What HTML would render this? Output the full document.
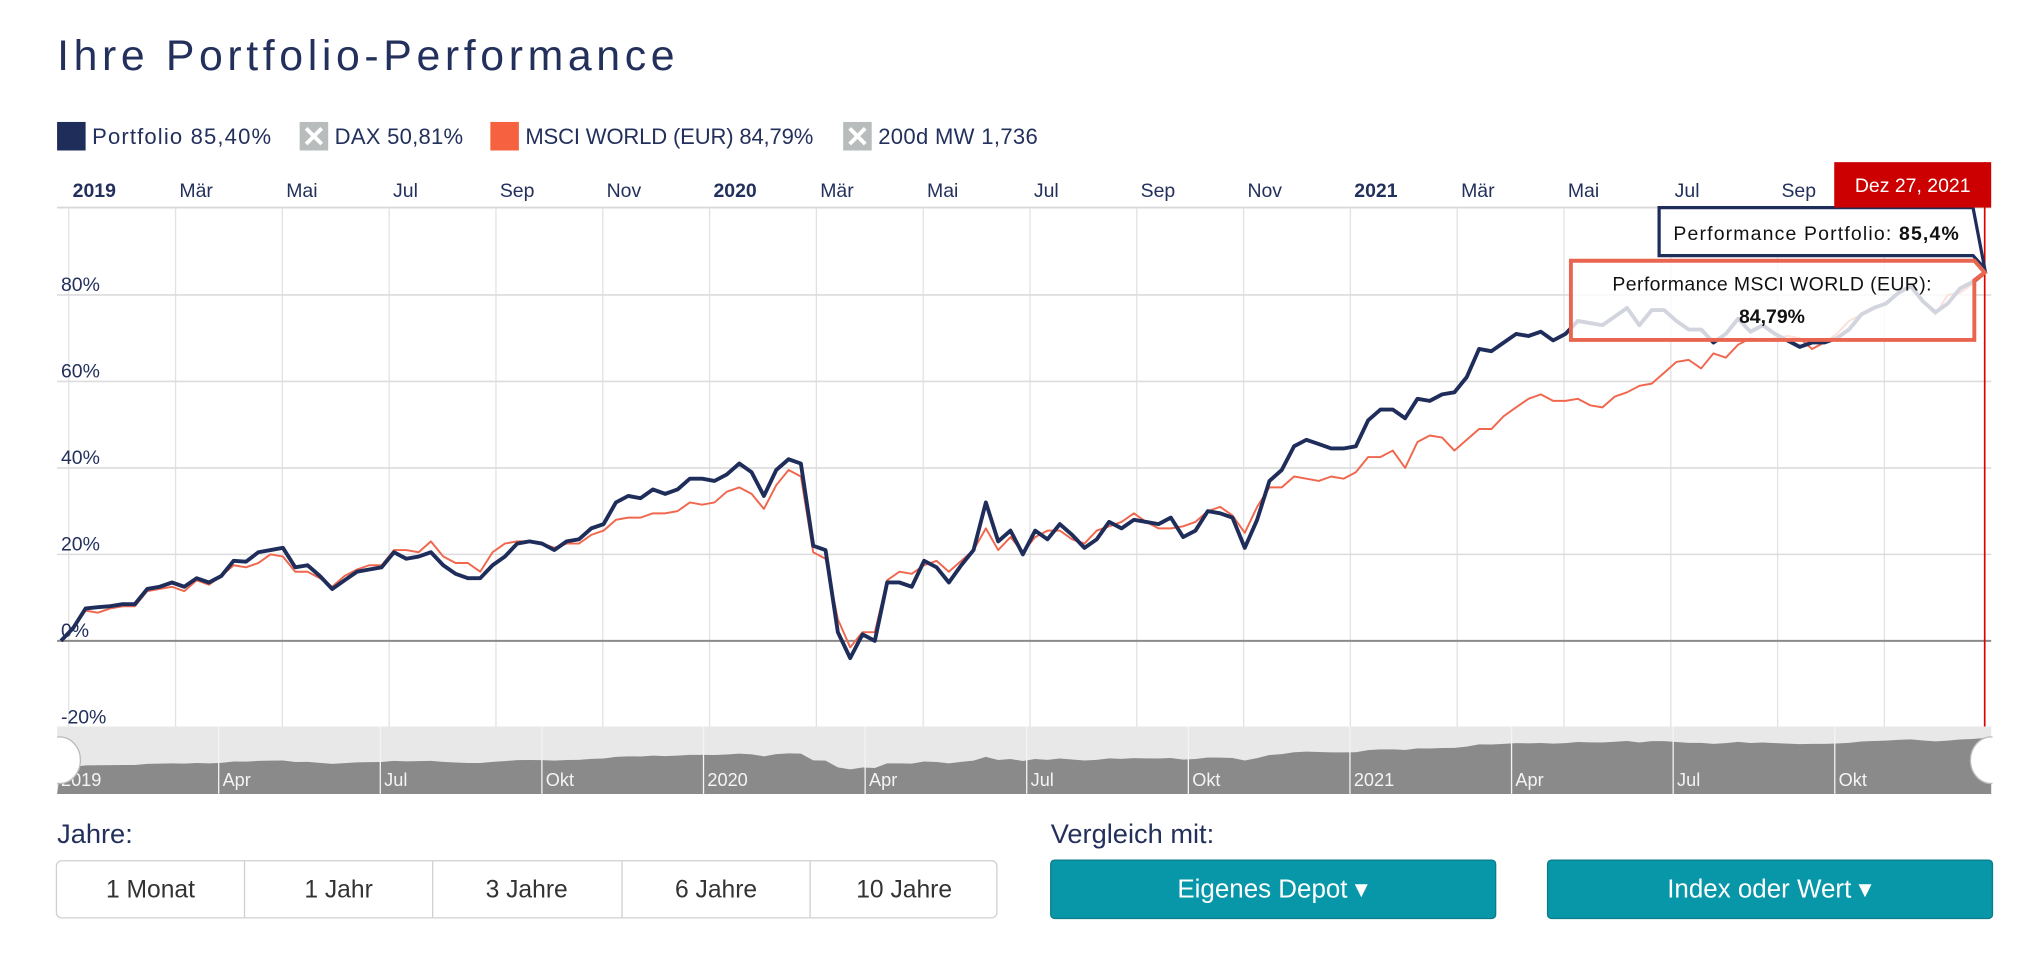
<!DOCTYPE html>
<html><head><meta charset="utf-8"><style>
html,body{margin:0;padding:0;background:#fff;}
svg{display:block;font-family:"Liberation Sans",sans-serif;}
</style></head><body>
<svg id="chart" width="2034" height="953" viewBox="0 0 1568 734.6" preserveAspectRatio="none" xmlns="http://www.w3.org/2000/svg">
<text x="44" y="54" font-size="33" fill="#23305c" textLength="476" lengthAdjust="spacing">Ihre Portfolio-Performance</text>
<g font-size="17" fill="#23305c">
 <g><rect x="44" y="94" width="22" height="22" fill="#1f2d5b"/><text x="71" y="111" textLength="138">Portfolio  85,40%</text></g>
 <g><rect x="231" y="94" width="22" height="22" fill="#b8bcbc"/><path d="M236 99 L248 111 M248 99 L236 111" stroke="#fff" stroke-width="3"/><text x="258" y="111" textLength="99">DAX  50,81%</text></g>
 <g><rect x="378" y="94" width="22" height="22" fill="#f6623f"/><text x="405" y="111" textLength="222">MSCI WORLD (EUR)  84,79%</text></g>
 <g><rect x="650" y="94" width="22" height="22" fill="#b8bcbc"/><path d="M655 99 L667 111 M667 99 L655 111" stroke="#fff" stroke-width="3"/><text x="677" y="111" textLength="123">200d MW  1,736</text></g>
</g>
<g id="grid"></g>
<g id="xlabels" font-size="15" fill="#23305c"></g>
<g id="ylabels" font-size="15" fill="#23305c"></g>
<g id="series"></g>
<line x1="1530" y1="125" x2="1530" y2="560" stroke="#e00000" stroke-width="1.3"/>
<g id="nav"></g>
<g>
 <path d="M1279 160 H1521 L1530 207 L1521 197 H1279 Z" fill="#fff" stroke="#1f2d5b" stroke-width="2.5"/>
 <text x="1400" y="185" font-size="15" text-anchor="middle" fill="#111" textLength="220">Performance Portfolio: <tspan font-weight="bold">85,4%</tspan></text>
</g>
<g>
 <path d="M1211 201 H1522 L1530 210 L1522 216 V262 H1211 Z" fill="rgba(255,255,255,0.8)" stroke="#ea6550" stroke-width="3"/>
 <text x="1366" y="224" font-size="15" text-anchor="middle" fill="#111" textLength="246">Performance MSCI WORLD (EUR):</text>
 <text x="1366" y="249" font-size="15" text-anchor="middle" font-weight="bold" fill="#111">84,79%</text>
</g>
<g>
 <rect x="1414" y="125" width="121" height="35" fill="#cc0000"/>
 <text x="1474.5" y="148" font-size="15" text-anchor="middle" fill="#fff">Dez 27, 2021</text>
</g>
<text x="44" y="650" font-size="21" fill="#23305c">Jahre:</text>
<g font-size="19" fill="#333" text-anchor="middle">
 <rect x="43.5" y="663.5" width="725" height="44" rx="4" fill="#fff" stroke="#d0d0d0"/>
 <line x1="188.5" y1="664" x2="188.5" y2="707" stroke="#d0d0d0"/><line x1="333.5" y1="664" x2="333.5" y2="707" stroke="#d0d0d0"/><line x1="479.5" y1="664" x2="479.5" y2="707" stroke="#d0d0d0"/><line x1="624.5" y1="664" x2="624.5" y2="707" stroke="#d0d0d0"/>
 <text x="116" y="692">1 Monat</text>
 <text x="261" y="692">1 Jahr</text>
 <text x="406" y="692">3 Jahre</text>
 <text x="552" y="692">6 Jahre</text>
 <text x="697" y="692">10 Jahre</text>
</g>
<text x="810" y="650" font-size="21" fill="#23305c">Vergleich mit:</text>
<g>
 <rect x="810" y="663" width="343" height="45" rx="3" fill="#0897a8" stroke="#0a7c8a"/>
 <text x="981" y="692" font-size="20" text-anchor="middle" fill="#fff">Eigenes Depot ▾</text>
</g>
<g>
 <rect x="1193" y="663" width="343" height="45" rx="3" fill="#0897a8" stroke="#0a7c8a"/>
 <text x="1364" y="692" font-size="20" text-anchor="middle" fill="#fff">Index oder Wert ▾</text>
</g>
</svg>
<script>
const monthLabels = ["2019","Mär","Mai","Jul","Sep","Nov","2020","Mär","Mai","Jul","Sep","Nov","2021","Mär","Mai","Jul","Sep","Nov"];
const yTicks = [-20,0,20,40,60,80];
const navLabels = ["2019","Apr","Jul","Okt","2020","Apr","Jul","Okt","2021","Apr","Jul","Okt"];
const portfolio = [0,3,7.5,7.8,8,8.5,8.5,12,12.5,13.5,12.5,14.5,13.5,15,18.5,18.3,20.5,21,21.5,17,17.5,15,12,14,16,16.5,17,20.5,19,19.5,20.5,17.5,15.5,14.5,14.5,17.5,19.5,22.5,23,22.5,21,23,23.5,26,27,32,33.5,33,35,34,35,37.5,37.5,37,38.5,41,39,33.5,39.5,42,41,22,21,2,-4,1.5,0,13.5,13.5,12.5,18.5,17,13.5,17.5,21,32,23,25.5,20,25.5,23.5,27,24.5,21.5,23.5,27.5,26,28,27.5,27,28.5,24,25.5,30,29.5,28.5,21.5,28,37,39.5,45,46.5,45.5,44.5,44.5,45,51,53.5,53.5,51.5,56,55.5,57,57.5,61,67.5,67,69,71,70.5,71.5,69.5,71,74,73.5,73,75,77,73,76.5,76.5,74,72,72,69,71,74.5,71.5,73,71,69.5,68,69,69,70,72,75.5,77,78,80.5,82,78.5,76,78,81.5,83,85.4];
const msci = [0,3,7,6.5,7.5,8,8,11.5,12,12.5,11.5,14,13,15,17.5,17,18,20,19.5,16,16,14.5,12.5,15,16.5,17.5,17.5,21,21,20.5,23,19.5,18,18,16,20.5,22.5,23,23,22.5,21.5,22.5,22.5,24.5,25.5,28,28.5,28.5,29.5,29.5,30,32,31.5,32,34.5,35.5,34,30.5,36,39.5,38,20.5,19,5,-1.5,2,2,14,16,15.5,17.5,18.5,16,18.5,21,26,21,24,20.5,24,25.5,25.5,23.5,22.5,25.5,26.5,27.5,29.5,27.5,26,26,26.5,27.5,30,31,29,25,31,35.5,35.5,38,37.5,37,38,37.5,39,42.5,42.5,44,40,46,47.5,47,44,46.5,49,49,52,54,56,57,55.5,55.5,56,54.5,54,56.5,57.5,59,59.5,62,64.5,65,63,66.5,65.5,68.5,70,69.5,70,70.5,70,67.5,69,71,74,75.5,77,78,80.5,82,78.5,75.5,80,80.5,82.5,84.79];

const NS="http://www.w3.org/2000/svg";
const X0=47,X1=1530,L=44,R=1535,TOP=160,BOT=560;
const yS=v=>494-v*3.333;
const xS=(i,n)=>X0+i*(X1-X0)/(n-1);
const mk=(t,a,p)=>{const e=document.createElementNS(NS,t);for(const k in a)e.setAttribute(k,a[k]);p.appendChild(e);return e;};
const grid=document.getElementById('grid');
const gl=mk('line',{x1:L,y1:TOP,x2:R,y2:TOP,stroke:'#d8d8d8','stroke-width':1.5},grid);


const monthX=k=>53+k*(494/6);
monthLabels.forEach((m,k)=>{
  const x=monthX(k);
  const v=mk('line',{x1:x,y1:TOP,x2:x,y2:BOT,stroke:'#e2e2e2','stroke-width':1},grid);
  
  
  const t=mk('text',{x:x+3,y:152},document.getElementById('xlabels'));
  if(m.length==4) t.setAttribute('font-weight','bold');
  t.textContent=m;
  
  
});
yTicks.forEach(v=>{
  const y=yS(v);
  if(v>-20){
    const h=mk('line',{x1:L,y1:y,x2:R,y2:y,stroke:v==0?'#8a8a8a':'#dcdcdc','stroke-width':v==0?1.5:1.2},grid);
    
    
  }
  const t=mk('text',{x:47,y:y-3},document.getElementById('ylabels'));
  t.textContent=v+'%';
  
  
});
const ser=document.getElementById('series');
const line=(arr,col,w,name)=>{
  const d=arr.map((v,i)=>(i?'L':'M')+xS(i,arr.length).toFixed(1)+' '+yS(v).toFixed(1)).join(' ');
  const p=mk('path',{d:d,fill:'none',stroke:col,'stroke-width':w,'stroke-linejoin':'round'},ser);
  
  
};
line(msci,'#f0674e',1.5,'msci-line');
line(portfolio,'#1f2d5b',3,'portfolio-line');
const nav=document.getElementById('nav');
mk('rect',{x:L,y:BOT,width:R-L,height:52,fill:'#e8e8e8'},nav);
const nd='M'+L+' 612 L'+X0+' 592 '+portfolio.map((v,i)=>'L'+xS(i,portfolio.length).toFixed(1)+' '+(592-v*0.27).toFixed(1)).join(' ')+' L'+R+' 568 L'+R+' 612 Z';
const na=mk('path',{d:nd,fill:'#8a8a8a'},nav);


navLabels.forEach((m,k)=>{
  const x=44+k*(1495/12);
  if(k>0) mk('line',{x1:x,y1:BOT,x2:x,y2:612,stroke:'#f4f4f4','stroke-width':1},nav);
  const t=mk('text',{x:x+3,y:606,'font-size':14,fill:'#f4f4f4'},nav);
  t.textContent=m;
  
  
});
const h1=mk('ellipse',{cx:46,cy:586,rx:16,ry:18,fill:'#fff',stroke:'#bbb'},nav);


const h2=mk('ellipse',{cx:1535,cy:586,rx:16,ry:18,fill:'#fff',stroke:'#bbb'},nav);


mk('rect',{x:0,y:560,width:L,height:55,fill:'#fff'},nav);
mk('rect',{x:R+1,y:560,width:40,height:55,fill:'#fff'},nav);
</script>
</body></html>
